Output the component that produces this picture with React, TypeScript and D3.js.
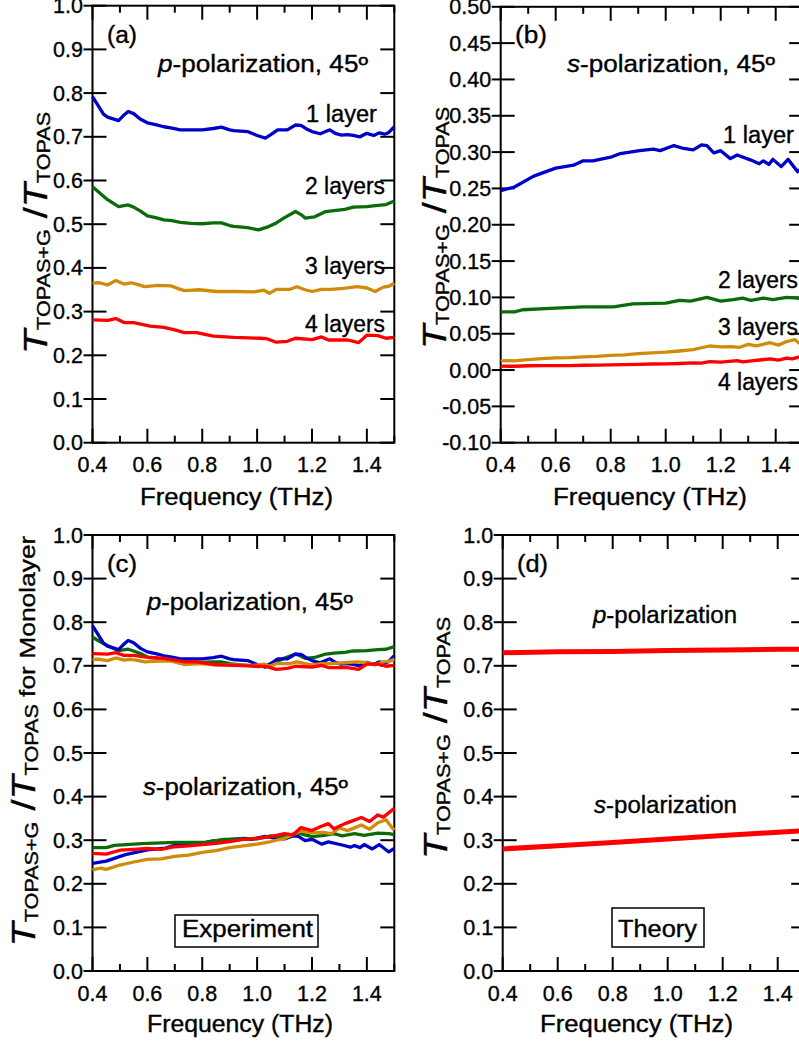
import React from 'react';
import * as d3 from 'd3';

type Pt = [number, number];

// ---------- tick definitions ----------
const freqMajorTicks = [0.4, 0.6, 0.8, 1.0, 1.2, 1.4];
const freqMinorTicks = [0.5, 0.7, 0.9, 1.1, 1.3, 1.5];
const yTicksUnit = [0, 0.1, 0.2, 0.3, 0.4, 0.5, 0.6, 0.7, 0.8, 0.9, 1.0];
const yTicksS = [-0.1, -0.05, 0, 0.05, 0.1, 0.15, 0.2, 0.25, 0.3, 0.35, 0.4, 0.45, 0.5];

// ---------- (a) p-polarization, 45° ----------
const aLayer1: Pt[] = [[0.40,0.792],[0.42,0.772],[0.44,0.752],[0.455,0.745],[0.495,0.737],[0.515,0.75],[0.53,0.758],[0.55,0.753],[0.575,0.74],[0.6,0.732],[0.63,0.728],[0.66,0.723],[0.69,0.72],[0.72,0.716],[0.76,0.716],[0.8,0.716],[0.84,0.719],[0.87,0.722],[0.9,0.716],[0.915,0.714],[0.965,0.712],[1.0,0.703],[1.03,0.697],[1.05,0.705],[1.075,0.716],[1.11,0.716],[1.14,0.727],[1.16,0.726],[1.18,0.718],[1.2,0.712],[1.23,0.707],[1.265,0.716],[1.285,0.708],[1.305,0.704],[1.33,0.705],[1.35,0.703],[1.375,0.70],[1.4,0.708],[1.425,0.703],[1.445,0.709],[1.465,0.706],[1.48,0.71],[1.5,0.723]];
const aLayer2: Pt[] = [[0.40,0.586],[0.42,0.575],[0.455,0.556],[0.495,0.540],[0.53,0.544],[0.55,0.539],[0.575,0.53],[0.6,0.519],[0.63,0.515],[0.66,0.51],[0.69,0.508],[0.72,0.504],[0.76,0.502],[0.8,0.501],[0.84,0.503],[0.87,0.503],[0.9,0.497],[0.915,0.495],[0.965,0.492],[1.005,0.487],[1.04,0.494],[1.07,0.503],[1.1,0.515],[1.14,0.529],[1.16,0.522],[1.175,0.514],[1.21,0.517],[1.25,0.529],[1.28,0.531],[1.32,0.534],[1.35,0.539],[1.4,0.540],[1.44,0.543],[1.47,0.545],[1.5,0.553]];
const aLayer3: Pt[] = [[0.40,0.365],[0.425,0.366],[0.455,0.361],[0.485,0.371],[0.515,0.363],[0.54,0.366],[0.56,0.363],[0.59,0.357],[0.64,0.36],[0.685,0.359],[0.715,0.352],[0.735,0.348],[0.79,0.35],[0.85,0.346],[0.915,0.346],[0.99,0.345],[1.025,0.349],[1.045,0.342],[1.07,0.351],[1.12,0.351],[1.145,0.357],[1.175,0.35],[1.2,0.346],[1.235,0.351],[1.27,0.351],[1.315,0.353],[1.365,0.357],[1.4,0.354],[1.43,0.346],[1.46,0.356],[1.48,0.358],[1.5,0.365]];
const aLayer4: Pt[] = [[0.40,0.281],[0.455,0.28],[0.485,0.284],[0.515,0.275],[0.55,0.275],[0.61,0.267],[0.66,0.264],[0.7,0.258],[0.735,0.252],[0.78,0.252],[0.84,0.244],[0.915,0.241],[1.01,0.239],[1.035,0.238],[1.07,0.23],[1.11,0.232],[1.14,0.239],[1.2,0.236],[1.235,0.242],[1.26,0.235],[1.33,0.235],[1.37,0.229],[1.4,0.246],[1.44,0.245],[1.47,0.239],[1.5,0.241]];

// ---------- (b) s-polarization, 45° ----------
const bLayer1: Pt[] = [[0.40,0.247],[0.45,0.252],[0.52,0.267],[0.6,0.278],[0.665,0.282],[0.7,0.288],[0.735,0.288],[0.8,0.293],[0.835,0.298],[0.905,0.302],[0.955,0.304],[0.98,0.302],[1.03,0.309],[1.065,0.305],[1.1,0.303],[1.13,0.31],[1.15,0.309],[1.175,0.299],[1.2,0.302],[1.235,0.291],[1.26,0.296],[1.31,0.289],[1.34,0.284],[1.355,0.288],[1.375,0.283],[1.39,0.29],[1.42,0.28],[1.445,0.29],[1.48,0.273],[1.5,0.281]];
const bLayer2: Pt[] = [[0.40,0.08],[0.45,0.08],[0.48,0.083],[0.58,0.085],[0.7,0.087],[0.81,0.087],[0.88,0.091],[1.0,0.092],[1.05,0.096],[1.09,0.095],[1.15,0.1],[1.2,0.095],[1.245,0.097],[1.28,0.099],[1.31,0.096],[1.355,0.099],[1.39,0.097],[1.44,0.1],[1.48,0.099],[1.5,0.098]];
const bLayer3: Pt[] = [[0.40,0.0125],[0.43,0.0131],[0.45,0.0127],[0.5,0.0144],[0.55,0.0156],[0.6,0.0168],[0.65,0.017],[0.7,0.0182],[0.75,0.0188],[0.8,0.0201],[0.85,0.021],[0.9,0.0227],[0.95,0.0236],[1.0,0.0246],[1.05,0.0262],[1.1,0.0281],[1.13,0.0307],[1.16,0.0331],[1.2,0.0319],[1.24,0.0322],[1.27,0.0313],[1.3,0.0353],[1.33,0.0334],[1.38,0.0376],[1.41,0.0343],[1.44,0.0393],[1.47,0.0418],[1.49,0.0359],[1.5,0.0337]];
const bLayer4: Pt[] = [[0.40,0.0053],[0.45,0.0052],[0.5,0.0059],[0.55,0.0061],[0.6,0.0062],[0.65,0.0061],[0.7,0.0066],[0.75,0.0068],[0.8,0.0071],[0.85,0.0074],[0.9,0.0078],[0.95,0.0083],[1.0,0.0085],[1.05,0.009],[1.1,0.0099],[1.13,0.0095],[1.16,0.0117],[1.2,0.0108],[1.23,0.012],[1.26,0.0131],[1.28,0.0113],[1.32,0.0131],[1.35,0.0142],[1.38,0.0154],[1.41,0.0138],[1.44,0.0164],[1.46,0.0155],[1.5,0.0194]];

// ---------- (c) experiment, per monolayer ----------
const cP1: Pt[] = aLayer1;
const cP2: Pt[] = [[0.40,0.766],[0.42,0.758],[0.455,0.746],[0.495,0.735],[0.53,0.738],[0.55,0.734],[0.575,0.728],[0.6,0.720],[0.63,0.718],[0.66,0.714],[0.69,0.713],[0.72,0.71],[0.76,0.709],[0.8,0.708],[0.84,0.709],[0.87,0.709],[0.9,0.705],[0.915,0.704],[0.965,0.701],[1.005,0.698],[1.04,0.703],[1.07,0.709],[1.1,0.718],[1.14,0.727],[1.16,0.722],[1.175,0.717],[1.21,0.719],[1.25,0.727],[1.28,0.729],[1.32,0.731],[1.35,0.734],[1.4,0.735],[1.44,0.737],[1.47,0.738],[1.5,0.744]];
const cP3: Pt[] = [[0.40,0.715],[0.425,0.715],[0.455,0.712],[0.485,0.718],[0.515,0.713],[0.54,0.715],[0.56,0.713],[0.59,0.709],[0.64,0.711],[0.685,0.711],[0.715,0.706],[0.735,0.703],[0.79,0.705],[0.85,0.702],[0.915,0.702],[0.99,0.701],[1.025,0.704],[1.045,0.699],[1.07,0.705],[1.12,0.705],[1.145,0.709],[1.175,0.705],[1.2,0.702],[1.235,0.705],[1.27,0.705],[1.315,0.707],[1.365,0.709],[1.4,0.707],[1.43,0.702],[1.46,0.709],[1.48,0.710],[1.5,0.715]];
const cP4: Pt[] = [[0.40,0.728],[0.455,0.727],[0.485,0.730],[0.515,0.724],[0.55,0.724],[0.61,0.719],[0.66,0.717],[0.7,0.713],[0.735,0.709],[0.78,0.709],[0.84,0.703],[0.915,0.701],[1.01,0.699],[1.035,0.698],[1.07,0.692],[1.11,0.694],[1.14,0.699],[1.2,0.697],[1.235,0.701],[1.26,0.696],[1.33,0.696],[1.37,0.692],[1.4,0.704],[1.44,0.704],[1.47,0.699],[1.5,0.701]];
const cS1: Pt[] = bLayer1;
const cS2: Pt[] = [[0.40,0.283],[0.45,0.283],[0.48,0.288],[0.58,0.292],[0.7,0.295],[0.81,0.295],[0.88,0.302],[1.0,0.303],[1.05,0.310],[1.09,0.308],[1.15,0.316],[1.2,0.308],[1.245,0.311],[1.28,0.315],[1.31,0.310],[1.355,0.315],[1.39,0.311],[1.44,0.316],[1.48,0.315],[1.5,0.313]];
const cS3: Pt[] = [[0.40,0.232],[0.43,0.236],[0.45,0.233],[0.5,0.243],[0.55,0.25],[0.6,0.256],[0.65,0.257],[0.7,0.263],[0.75,0.266],[0.8,0.272],[0.85,0.276],[0.9,0.283],[0.95,0.287],[1.0,0.291],[1.05,0.297],[1.1,0.304],[1.13,0.313],[1.16,0.321],[1.2,0.317],[1.24,0.318],[1.27,0.315],[1.3,0.328],[1.33,0.322],[1.38,0.335],[1.41,0.325],[1.44,0.34],[1.47,0.347],[1.49,0.33],[1.5,0.323]];
const cS4: Pt[] = [[0.40,0.270],[0.45,0.268],[0.5,0.277],[0.55,0.279],[0.6,0.281],[0.65,0.279],[0.7,0.285],[0.75,0.287],[0.8,0.290],[0.85,0.293],[0.9,0.297],[0.95,0.302],[1.0,0.304],[1.05,0.308],[1.1,0.315],[1.13,0.312],[1.16,0.329],[1.2,0.322],[1.23,0.331],[1.26,0.338],[1.28,0.326],[1.32,0.338],[1.35,0.345],[1.38,0.352],[1.41,0.343],[1.44,0.358],[1.46,0.353],[1.5,0.373]];

// ---------- (d) theory ----------
const dP: Pt[] = [[0.4,0.730],[0.6,0.732],[0.8,0.733],[1.0,0.735],[1.2,0.736],[1.4,0.738],[1.5,0.738]];
const dS: Pt[] = [[0.4,0.280],[0.6,0.287],[0.8,0.295],[1.0,0.303],[1.2,0.311],[1.4,0.318],[1.5,0.322]];

const BLUE = '#0000cc';
const GREEN = '#0b6b0b';
const GOLD = '#d08b0a';
const RED = '#ff0000';

const FONT = '"Liberation Sans", Arial, Helvetica, sans-serif';
const TXT = { fill: '#000', stroke: '#000', strokeWidth: 0.35 };

interface PanelProps {
  left: number; right: number; top: number; bottom: number;
  yDomain: [number, number];
  yTicks: number[];
  yFmt: (v: number) => string;
  series: { data: Pt[]; color: string; width: number }[];
  children?: React.ReactNode;
}

function Panel({ left, right, top, bottom, yDomain, yTicks, yFmt, series, children }: PanelProps) {
  const x = d3.scaleLinear().domain([0.4, 1.5]).range([left, right]);
  const y = d3.scaleLinear().domain(yDomain).range([bottom, top]);
  const line = d3.line<Pt>().x(d => x(d[0])).y(d => y(d[1])).curve(d3.curveLinear);
  const sw = 2;
  return (
    <g>
      <rect x={left} y={top} width={right - left} height={bottom - top} fill="none" stroke="#000" strokeWidth={sw} />
      {freqMajorTicks.map(t => (
        <g key={'M' + t}>
          <line x1={x(t)} x2={x(t)} y1={bottom} y2={bottom - 14} stroke="#000" strokeWidth={sw} />
          <line x1={x(t)} x2={x(t)} y1={top} y2={top + 14} stroke="#000" strokeWidth={sw} />
          <text x={x(t)} y={bottom + 29.5} textAnchor="middle" fontSize={21.5} fontFamily={FONT} {...TXT}>{t.toFixed(1)}</text>
        </g>
      ))}
      {freqMinorTicks.map(t => (
        <g key={'m' + t}>
          <line x1={x(t)} x2={x(t)} y1={bottom} y2={bottom - 7} stroke="#000" strokeWidth={sw} />
          <line x1={x(t)} x2={x(t)} y1={top} y2={top + 7} stroke="#000" strokeWidth={sw} />
        </g>
      ))}
      {yTicks.map(t => (
        <g key={'y' + t}>
          <line x1={left - 9} x2={left + 14} y1={y(t)} y2={y(t)} stroke="#000" strokeWidth={sw} />
          <line x1={right} x2={right - 14} y1={y(t)} y2={y(t)} stroke="#000" strokeWidth={sw} />
          <text x={left - 9.5} y={y(t) + 7.5} textAnchor="end" fontSize={21.5} fontFamily={FONT} {...TXT}>{yFmt(t)}</text>
        </g>
      ))}
      {series.map((s, i) => (
        <path key={i} d={line(s.data) || ''} fill="none" stroke={s.color} strokeWidth={s.width} strokeLinejoin="round" strokeLinecap="butt" />
      ))}
      {children}
    </g>
  );
}

function Label({ x, y, w, size = 23, children }: { x: number; y: number; w?: number; size?: number; children: React.ReactNode }) {
  return (
    <text x={x} y={y} fontSize={size} fontFamily={FONT} textLength={w} lengthAdjust={w ? 'spacingAndGlyphs' : undefined} {...TXT}>{children}</text>
  );
}

function YTitle({ x, y, extra }: { x: number; y: number; extra?: string }) {
  return (
    <text transform={`translate(${x},${y}) rotate(-90) scale(1.2,1)`} textAnchor="middle" fontFamily={FONT} fontSize={33} {...TXT}>
      <tspan fontStyle="italic">T</tspan>
      <tspan fontSize={18} dy={3}>TOPAS+G</tspan>
      <tspan dy={-3}> /</tspan>
      <tspan fontStyle="italic">T</tspan>
      <tspan fontSize={18} dy={3}>TOPAS</tspan>
      {extra ? <tspan dy={-3} fontSize={22}>{' ' + extra}</tspan> : null}
    </text>
  );
}

const fmt1 = (v: number) => v.toFixed(1);
const fmt2 = (v: number) => (Math.abs(v) < 1e-9 ? '0.00' : v.toFixed(2));

export default function App() {
  return (
    <svg width={799} height={1047} style={{ position: 'absolute', left: 0, top: 0, background: '#fff' }}>
      <rect x={0} y={0} width={799} height={1047} fill="#fff" />
      {/* (a) */}
      <Panel left={92.5} right={394.3} top={5.7} bottom={442.7} yDomain={[0, 1]} yTicks={yTicksUnit} yFmt={fmt1}
        series={[
          { data: aLayer1, color: BLUE, width: 3.3 },
          { data: aLayer2, color: GREEN, width: 3.3 },
          { data: aLayer3, color: GOLD, width: 3.3 },
          { data: aLayer4, color: RED, width: 3.3 },
        ]}>
        <Label x={107} y={43} w={30}>(a)</Label>
        <Label x={158} y={72} w={210}><tspan fontStyle="italic">p</tspan>-polarization, 45º</Label>
        <Label x={306} y={122} w={71}>1 layer</Label>
        <Label x={305} y={193.5} w={80}>2 layers</Label>
        <Label x={305} y={274} w={80}>3 layers</Label>
        <Label x={305} y={332} w={80}>4 layers</Label>
      </Panel>
      <Label x={140} y={505} w={193}>Frequency (THz)</Label>
      <YTitle x={47} y={233} />

      {/* (b) */}
      <Panel left={500.7} right={803.2} top={6.8} bottom={442.7} yDomain={[-0.1, 0.5]} yTicks={yTicksS} yFmt={fmt2}
        series={[
          { data: bLayer1, color: BLUE, width: 3.3 },
          { data: bLayer2, color: GREEN, width: 3.3 },
          { data: bLayer3, color: GOLD, width: 3.3 },
          { data: bLayer4, color: RED, width: 3.3 },
        ]}>
        <Label x={515} y={43} w={32}>(b)</Label>
        <Label x={567} y={72} w={208}><tspan fontStyle="italic">s</tspan>-polarization, 45º</Label>
        <Label x={723} y={143} w={71}>1 layer</Label>
        <Label x={718} y={288} w={80}>2 layers</Label>
        <Label x={718} y={335} w={80}>3 layers</Label>
        <Label x={718} y={390} w={80}>4 layers</Label>
      </Panel>
      <Label x={553} y={505} w={194}>Frequency (THz)</Label>
      <YTitle x={446} y={228} />

      {/* (c) */}
      <Panel left={92.5} right={394.3} top={535} bottom={971} yDomain={[0, 1]} yTicks={yTicksUnit} yFmt={fmt1}
        series={[
          { data: cP2, color: GREEN, width: 3.3 },
          { data: cP1, color: BLUE, width: 3.3 },
          { data: cP3, color: GOLD, width: 3.3 },
          { data: cP4, color: RED, width: 3.3 },
          { data: cS1, color: BLUE, width: 3.3 },
          { data: cS2, color: GREEN, width: 3.3 },
          { data: cS3, color: GOLD, width: 3.3 },
          { data: cS4, color: RED, width: 3.3 },
        ]}>
        <Label x={107} y={572} w={30}>(c)</Label>
        <Label x={147} y={610} w={206}><tspan fontStyle="italic">p</tspan>-polarization, 45º</Label>
        <Label x={143} y={795} w={205}><tspan fontStyle="italic">s</tspan>-polarization, 45º</Label>
        <rect x={175} y={915} width={143} height={32} fill="#fff" stroke="#000" strokeWidth={1.5} />
        <Label x={182} y={937} w={131}>Experiment</Label>
      </Panel>
      <Label x={147} y={1032} w={186}>Frequency (THz)</Label>
      <YTitle x={35} y={741} extra="for Monolayer" />

      {/* (d) */}
      <Panel left={502.7} right={805.2} top={535} bottom={971} yDomain={[0, 1]} yTicks={yTicksUnit} yFmt={fmt1}
        series={[
          { data: dP, color: RED, width: 5 },
          { data: dS, color: RED, width: 5 },
        ]}>
        <Label x={517} y={572} w={31}>(d)</Label>
        <Label x={593} y={623} w={144}><tspan fontStyle="italic">p</tspan>-polarization</Label>
        <Label x={594} y={813} w={143}><tspan fontStyle="italic">s</tspan>-polarization</Label>
        <rect x={612} y={908} width={92} height={39} fill="#fff" stroke="#000" strokeWidth={1.5} />
        <Label x={618} y={937} w={79}>Theory</Label>
      </Panel>
      <Label x={540} y={1032} w={193}>Frequency (THz)</Label>
      <YTitle x={447} y={738} />
    </svg>
  );
}
